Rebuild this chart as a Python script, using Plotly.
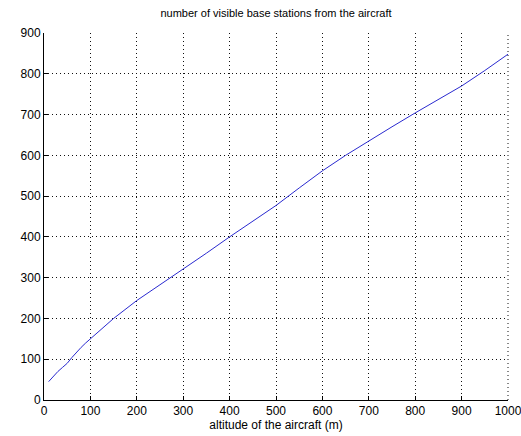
import plotly.graph_objects as go

altitude = [10, 20, 30, 40, 50, 60, 70, 80, 90, 100, 150, 200, 250, 300, 350, 400,
            450, 500, 550, 600, 650, 700, 750, 800, 850, 900, 950, 1000]
visible = [45, 58, 70, 80, 90, 104, 117, 129, 140, 150, 200, 244, 282, 321, 360, 400,
           438, 477, 520, 562, 600, 636, 670, 704, 737, 770, 808, 848]

title_text = "number of visible base stations from the aircraft"
x_title = "altitude of the aircraft (m)"

fig = go.Figure()
fig.add_trace(go.Scatter(x=altitude, y=visible, mode="lines",
                         line=dict(color="#2a2ad0", width=1), showlegend=False))

font_family = "Liberation Sans, Arial, sans-serif"
fig.update_layout(
    width=521, height=436,
    margin=dict(l=44, r=13, t=33, b=36),
    paper_bgcolor="white", plot_bgcolor="white",
    font=dict(family=font_family, size=12, color="black"),
    title=dict(text=title_text, x=(44 + 508) / 2 / 521, xanchor="center",
               y=1 - 13 / 436, yanchor="middle", font=dict(size=11, color="black")),
)
common = dict(
    tickmode="linear", tick0=0, dtick=100,
    showgrid=True, gridcolor="#111111", gridwidth=1, griddash="1px,3px",
    showline=True, linecolor="black", linewidth=1, mirror=False,
    ticks="inside", ticklen=4, tickcolor="black", zeroline=False,
    tickfont=dict(size=12), ticklabeloverflow="allow", automargin=False,
)
fig.update_xaxes(range=[0, 1000], title=dict(text=x_title, font=dict(size=12), standoff=0), **common)
fig.update_yaxes(range=[0, 900], **common)

# dotted frame on the right edge (MATLAB-style box edge from the grid)
fig.add_shape(type="line", xref="x domain", yref="y domain", x0=1, x1=1, y0=0, y1=1,
              line=dict(color="#111111", width=1, dash="1px,3px"), layer="below")

fig.write_html("out.html")
